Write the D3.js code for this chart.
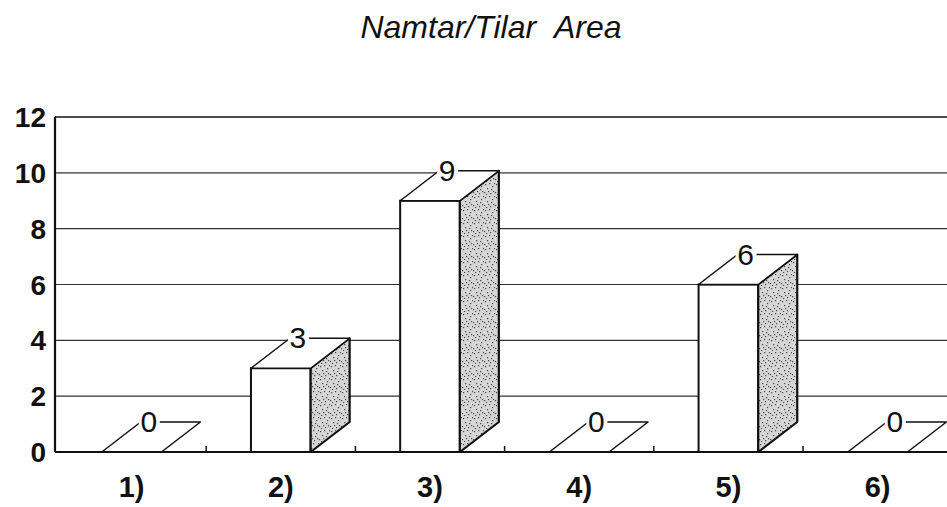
<!DOCTYPE html>
<html>
<head>
<meta charset="utf-8">
<script src="https://cdn.jsdelivr.net/npm/d3@7"></script>
<style>
  html, body { margin: 0; padding: 0; background: #fff; }
  svg { display: block; }
  text { font-family: "Liberation Sans", Arial, sans-serif; }
</style>
</head>
<body>
<svg id="chart"></svg>
<script>
// chart data
const categories = ["1)", "2)", "3)", "4)", "5)", "6)"];
const values = [0, 3, 9, 0, 6, 0];
const yTicks = [0, 2, 4, 6, 8, 10, 12];
const title = "Namtar/Tilar\u00a0\u00a0Area";

const width = 947, height = 507;
const depthX = 39, depthY = 30;

const svg = d3.select("#chart")
    .attr("width", width)
    .attr("height", height);

// speckled texture for the side faces
const defs = svg.append("defs");
const pat = defs.append("pattern")
    .attr("id", "speckle")
    .attr("patternUnits", "userSpaceOnUse")
    .attr("width", 11)
    .attr("height", 13);
pat.append("rect").attr("width", 11).attr("height", 13).attr("fill", "#d6d6d6");
const specks = [[1,2],[5,1],[8,4],[3,6],[9,9],[0,10],[6,11],[4,9],[7,7],[2,12],[10,1]];
pat.selectAll("rect.s")
    .data(specks)
    .enter()
    .append("rect")
    .attr("class", "s")
    .attr("x", d => d[0])
    .attr("y", d => d[1])
    .attr("width", 1.2)
    .attr("height", 1.2)
    .attr("fill", "#444");

// scales
const x = d3.scaleBand()
    .domain(categories)
    .range([57, 57 + 6 * 149.2])
    .paddingInner(0.6)
    .paddingOuter(0.3);

const y = d3.scaleLinear()
    .domain([0, 12])
    .range([452, 117]);

const x0 = 55;

// gridlines
svg.append("g")
    .selectAll("line")
    .data(yTicks.filter(d => d > 0))
    .enter()
    .append("line")
    .attr("x1", x0)
    .attr("x2", width)
    .attr("y1", d => y(d))
    .attr("y2", d => y(d))
    .attr("stroke", d => d === 12 ? "#111" : "#333")
    .attr("stroke-width", d => d === 12 ? 1.6 : 1.1);

// y tick labels
svg.append("g")
    .selectAll("text")
    .data(yTicks)
    .enter()
    .append("text")
    .attr("x", 46)
    .attr("y", d => y(d))
    .attr("dy", "0.36em")
    .attr("text-anchor", "end")
    .attr("font-size", 28)
    .attr("font-weight", "bold")
    .attr("fill", "#111")
    .text(d => d);

// bars (pseudo 3d)
const bw = x.bandwidth();
const bars = svg.append("g")
    .selectAll("g")
    .data(categories.map((c, i) => ({ cat: c, value: values[i] })))
    .enter()
    .append("g");

bars.filter(d => d.value > 0)
    .append("rect")
    .attr("x", d => x(d.cat))
    .attr("y", d => y(d.value))
    .attr("width", bw)
    .attr("height", d => y(0) - y(d.value))
    .attr("fill", "#fff")
    .attr("stroke", "#111")
    .attr("stroke-width", 2);

bars.filter(d => d.value > 0)
    .append("path")
    .attr("d", d => {
        const xr = x(d.cat) + bw, yt = y(d.value), yb = y(0);
        return `M${xr},${yb}L${xr + depthX},${yb - depthY}L${xr + depthX},${yt - depthY}L${xr},${yt}Z`;
    })
    .attr("fill", "url(#speckle)")
    .attr("stroke", "#111")
    .attr("stroke-width", 2.2)
    .attr("stroke-linejoin", "round");

bars.append("path")
    .attr("d", d => {
        const xl = x(d.cat), yt = y(d.value);
        return `M${xl},${yt}L${xl + depthX},${yt - depthY}L${xl + bw + depthX},${yt - depthY}L${xl + bw},${yt}Z`;
    })
    .attr("fill", "#fff")
    .attr("stroke", "#111")
    .attr("stroke-width", 1.5)
    .attr("stroke-linejoin", "round");

// value labels at back corner, on a white patch
const vLabels = bars.append("g");
vLabels.append("rect")
    .attr("x", d => x(d.cat) + depthX - 2)
    .attr("y", d => y(d.value) - depthY - 10)
    .attr("width", 21)
    .attr("height", 21)
    .attr("fill", "#fff");
vLabels.append("text")
    .attr("x", d => x(d.cat) + depthX + 8)
    .attr("y", d => y(d.value) - depthY + 10)
    .attr("text-anchor", "middle")
    .attr("font-size", 30)
    .attr("fill", "#111")
    .text(d => d.value);

// axes lines
svg.append("line")
    .attr("x1", x0).attr("x2", x0)
    .attr("y1", y(12)).attr("y2", y(0))
    .attr("stroke", "#111").attr("stroke-width", 2.2);

svg.append("line")
    .attr("x1", x0).attr("x2", width)
    .attr("y1", y(0)).attr("y2", y(0))
    .attr("stroke", "#111").attr("stroke-width", 2);

// small inward ticks at category boundaries
svg.append("g")
    .selectAll("line")
    .data(d3.range(1, categories.length))
    .enter()
    .append("line")
    .attr("x1", i => 57 + i * x.step())
    .attr("x2", i => 57 + i * x.step())
    .attr("y1", y(0))
    .attr("y2", y(0) - 6)
    .attr("stroke", "#111")
    .attr("stroke-width", 1.5);

// category labels
svg.append("g")
    .selectAll("text")
    .data(categories)
    .enter()
    .append("text")
    .attr("x", d => x(d) + bw / 2)
    .attr("y", 497)
    .attr("text-anchor", "middle")
    .attr("font-size", 29)
    .attr("font-weight", "bold")
    .attr("fill", "#111")
    .text(d => d);

// title
svg.append("text")
    .attr("x", 491)
    .attr("y", 38)
    .attr("text-anchor", "middle")
    .attr("font-size", 32)
    .attr("font-style", "italic")
    .attr("fill", "#111")
    .text(title);
</script>
</body>
</html>
